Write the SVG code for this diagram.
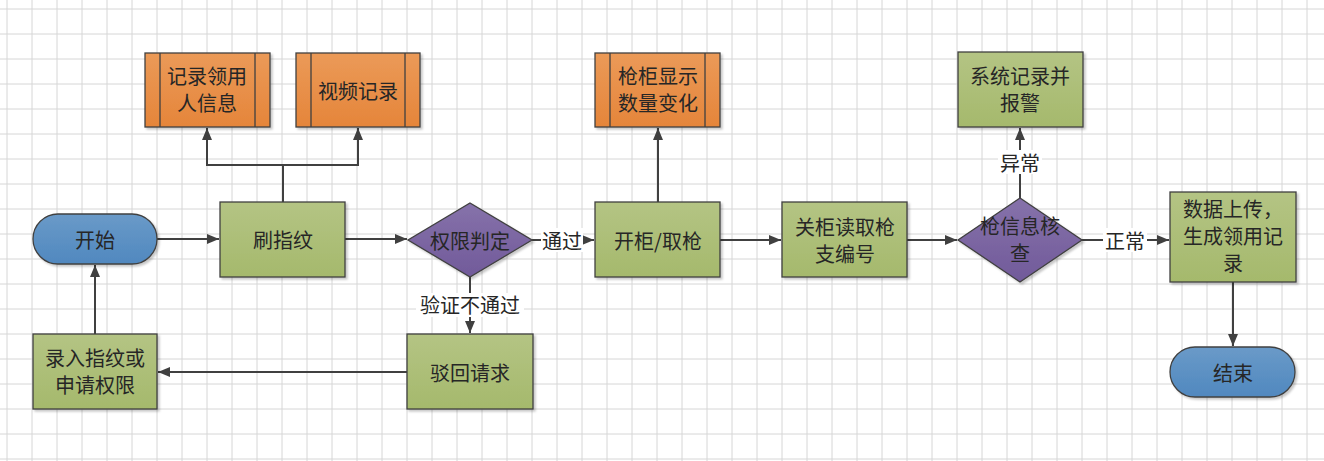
<svg xmlns="http://www.w3.org/2000/svg" width="1324" height="461" viewBox="0 0 1324 461">
<style>
.t{font-family:"Noto Sans CJK SC","Noto Sans",sans-serif;font-size:20px;fill:#262626;text-anchor:middle;dominant-baseline:central}
.n{stroke:#404040;stroke-width:1.3}
.c{fill:none;stroke:#404040;stroke-width:2}
.lbg{fill:#ffffff}
</style>
<defs>
<pattern id="grid" x="6" y="8" width="25" height="25" patternUnits="userSpaceOnUse">
<path d="M1 0V25M0 1H25" stroke="#d6d6d6" stroke-width="1" fill="none"/>
</pattern>
<linearGradient id="gGreen" x1="0" y1="0" x2="0" y2="1"><stop offset="0" stop-color="#b4c484"/><stop offset="1" stop-color="#a5b96c"/></linearGradient>
<linearGradient id="gOrange" x1="0" y1="0" x2="0" y2="1"><stop offset="0" stop-color="#eb9a58"/><stop offset="1" stop-color="#e5853a"/></linearGradient>
<linearGradient id="gBlue" x1="0" y1="0" x2="0" y2="1"><stop offset="0" stop-color="#6a9ac8"/><stop offset="1" stop-color="#5088bf"/></linearGradient>
<linearGradient id="gPurple" x1="0" y1="0" x2="0" y2="1"><stop offset="0" stop-color="#8672aa"/><stop offset="1" stop-color="#715a9a"/></linearGradient>
<filter id="sh" x="-10%" y="-10%" width="130%" height="130%"><feDropShadow dx="2" dy="2" stdDeviation="1" flood-color="#000" flood-opacity="0.22"/></filter>
<marker id="ah" markerWidth="12" markerHeight="10" refX="12" refY="5" orient="auto" markerUnits="userSpaceOnUse"><path d="M0 0L12 5L0 10Z" fill="#404040"/></marker>
</defs>
<rect width="1324" height="461" fill="#ffffff"/>
<rect width="1324" height="461" fill="url(#grid)"/>

<g id="connectors">
<path class="c" d="M157 239H219" marker-end="url(#ah)"/>
<path class="c" d="M345 239H407" marker-end="url(#ah)"/>
<path class="c" d="M532 240H594" marker-end="url(#ah)"/>
<path class="c" d="M470 277V333" marker-end="url(#ah)"/>
<path class="c" d="M407 372H158" marker-end="url(#ah)"/>
<path class="c" d="M95 334V265" marker-end="url(#ah)"/>
<path class="c" d="M283 202V165H207V128" marker-end="url(#ah)"/>
<path class="c" d="M283 165H358V128" marker-end="url(#ah)"/>
<path class="c" d="M658 202V128" marker-end="url(#ah)"/>
<path class="c" d="M720 240H781" marker-end="url(#ah)"/>
<path class="c" d="M907 240H957" marker-end="url(#ah)"/>
<path class="c" d="M1020 198V128" marker-end="url(#ah)"/>
<path class="c" d="M1082 240H1169" marker-end="url(#ah)"/>
<path class="c" d="M1233 282V346" marker-end="url(#ah)"/>
<rect class="lbg" x="541" y="228" width="42" height="24"/>
<text class="t" x="562" y="240">通过</text>
<rect class="lbg" x="416" y="293" width="108" height="24"/>
<text class="t" x="470" y="304">验证不通过</text>
<rect class="lbg" x="998" y="150" width="44" height="24"/>
<text class="t" x="1020" y="162">异常</text>
<rect class="lbg" x="1103" y="228" width="44" height="24"/>
<text class="t" x="1125" y="240">正常</text>
</g>

<g id="start">
<rect class="n" x="33" y="214" width="124" height="50" rx="25" fill="url(#gBlue)" filter="url(#sh)"/>
<text class="t" x="95" y="239">开始</text>
</g>
<g id="fingerprint">
<rect class="n" x="220" y="202" width="125" height="75" fill="url(#gGreen)" filter="url(#sh)"/>
<text class="t" x="283" y="239">刷指纹</text>
</g>
<g id="recordUser">
<rect class="n" x="145" y="53" width="125" height="74" fill="url(#gOrange)" filter="url(#sh)"/>
<path class="n" d="M160 53V127M255 53V127" fill="none"/>
<text class="t" x="207" y="75">记录领用</text>
<text class="t" x="207" y="102">人信息</text>
</g>
<g id="video">
<rect class="n" x="296" y="53" width="124" height="74" fill="url(#gOrange)" filter="url(#sh)"/>
<path class="n" d="M311 53V127M405 53V127" fill="none"/>
<text class="t" x="358" y="90">视频记录</text>
</g>
<g id="authCheck">
<path class="n" d="M470 203L532 240L470 277L408 240Z" fill="url(#gPurple)" filter="url(#sh)"/>
<text class="t" x="470" y="240">权限判定</text>
</g>
<g id="reject">
<rect class="n" x="407" y="334" width="126" height="75" fill="url(#gGreen)" filter="url(#sh)"/>
<text class="t" x="470" y="372">驳回请求</text>
</g>
<g id="enroll">
<rect class="n" x="33" y="334" width="124" height="75" fill="url(#gGreen)" filter="url(#sh)"/>
<text class="t" x="95" y="357">录入指纹或</text>
<text class="t" x="95" y="384">申请权限</text>
</g>
<g id="openCabinet">
<rect class="n" x="595" y="202" width="125" height="75" fill="url(#gGreen)" filter="url(#sh)"/>
<text class="t" x="658" y="240">开柜/取枪</text>
</g>
<g id="cabinetDisplay">
<rect class="n" x="595" y="53" width="125" height="74" fill="url(#gOrange)" filter="url(#sh)"/>
<path class="n" d="M610 53V127M705 53V127" fill="none"/>
<text class="t" x="658" y="75">枪柜显示</text>
<text class="t" x="658" y="102">数量变化</text>
</g>
<g id="closeCabinet">
<rect class="n" x="782" y="202" width="125" height="75" fill="url(#gGreen)" filter="url(#sh)"/>
<text class="t" x="845" y="226">关柜读取枪</text>
<text class="t" x="845" y="253">支编号</text>
</g>
<g id="gunCheck">
<path class="n" d="M1020 198L1082 240L1020 282L958 240Z" fill="url(#gPurple)" filter="url(#sh)"/>
<text class="t" x="1020" y="225">枪信息核</text>
<text class="t" x="1020" y="252">查</text>
</g>
<g id="alarm">
<rect class="n" x="958" y="52" width="125" height="75" fill="url(#gGreen)" filter="url(#sh)"/>
<text class="t" x="1020" y="75">系统记录并</text>
<text class="t" x="1020" y="102">报警</text>
</g>
<g id="upload">
<rect class="n" x="1170" y="192" width="126" height="90" fill="url(#gGreen)" filter="url(#sh)"/>
<text class="t" x="1233" y="208">数据上传，</text>
<text class="t" x="1233" y="235">生成领用记</text>
<text class="t" x="1233" y="262">录</text>
</g>
<g id="end">
<rect class="n" x="1170" y="347" width="125" height="50" rx="25" fill="url(#gBlue)" filter="url(#sh)"/>
<text class="t" x="1233" y="372">结束</text>
</g>
</svg>
